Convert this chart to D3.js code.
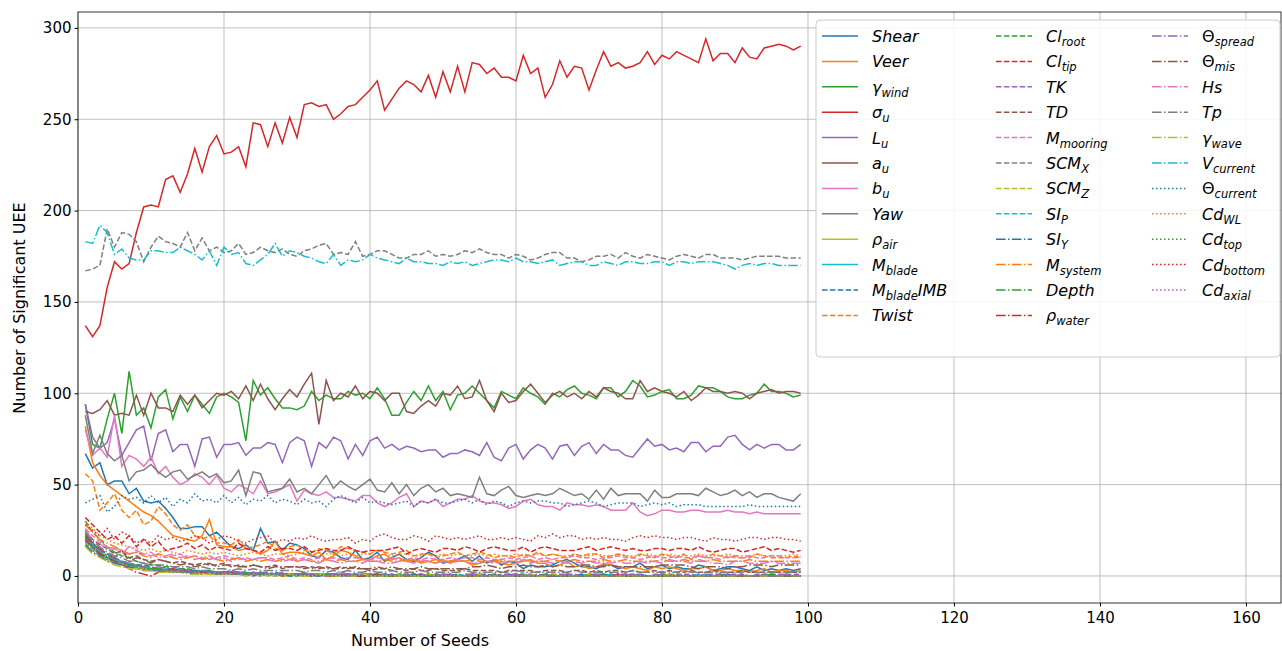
<!DOCTYPE html>
<html><head><meta charset="utf-8">
<script src="https://cdn.jsdelivr.net/npm/d3@7"></script>
<style>body{margin:0;background:#fff}text{font-family:"DejaVu Sans",sans-serif}</style>
</head><body><svg id="c" width="1282" height="651"></svg>
<script>
const xTicks=[0,20,40,60,80,100,120,140,160];
const yTicks=[0,50,100,150,200,250,300];
const names=[["Shear",""],["Veer",""],["γ","wind"],["σ","u"],["L","u"],["a","u"],["b","u"],["Yaw",""],["ρ","air"],["M","blade"],["M","blade","IMB"],["Twist",""],
["Cl","root"],["Cl","tip"],["TK",""],["TD",""],["M","mooring"],["SCM","X"],["SCM","Z"],["SI","P"],["SI","Y"],["M","system"],["Depth",""],["ρ","water"],
["Θ","spread"],["Θ","mis"],["Hs",""],["Tp",""],["γ","wave"],["V","current"],["Θ","current"],["Cd","WL"],["Cd","top"],["Cd","bottom"],["Cd","axial"]];
const shear="67,59,62,50,52,52,45,48,41,40,41,37,32,26,26,27,27,22,24,20,16,15,17,14,26,18,19,14,18,17,15,11,10,14,13,10,9,14,9,10,13,8,10,12,9,8,10,13,11,7,8,9,11,8,11,7,9,6,8,7,4,6,5,5,6,8,9,7,5,5,4,6,6,4,5,5,7,4,5,6,4,5,4,4,6,5,3,4,5,5,4,3,5,3,4,3,4,3,4";
const veer="82,62,55,50,47,44,41,38,35,33,30,26,22,21,20,19,22,31,17,16,16,14,15,14,12,14,19,12,13,13,12,11,13,9,11,14,13,11,9,9,11,12,9,10,8,9,7,8,7,9,7,9,8,6,7,8,8,7,6,7,8,9,7,7,5,6,8,5,6,4,5,7,6,5,4,5,4,3,5,4,5,4,3,4,4,5,3,3,4,3,3,2,3,4,2,3,3,2,3";
const gwind="94,72,70,86,100,78,112,88,92,81,98,102,86,98,90,99,94,89,98,100,98,95,74,107,99,103,97,92,92,91,93,101,96,99,97,97,101,99,100,97,103,97,88,88,95,101,96,104,96,101,91,99,100,104,100,96,92,101,99,97,103,100,98,94,100,98,102,104,100,99,97,103,103,98,101,107,104,98,99,101,102,97,97,99,104,103,103,101,98,97,97,99,100,105,101,101,100,98,99";
const sigu="137,131,137,158,172,168,171,188,202,203,202,217,219,210,220,234,221,235,241,231,232,235,224,248,247,235,248,237,251,240,258,259,257,258,250,253,257,258,262,266,271,255,261,267,271,269,265,274,262,276,265,279,265,281,280,275,278,273,273,271,285,275,278,262,269,282,273,279,278,266,277,287,279,281,278,279,281,287,280,285,283,287,285,283,281,294,282,286,286,281,289,284,283,289,290,291,290,288,290";
const lu="94,76,70,73,86,66,73,80,82,63,78,80,68,72,72,60,75,76,65,72,72,73,66,70,70,73,72,62,73,76,74,60,73,70,76,74,64,72,66,74,76,70,72,69,71,70,68,69,69,65,67,67,69,68,66,73,65,63,70,72,64,69,72,70,64,71,72,66,71,73,67,72,69,69,66,65,70,75,71,72,69,70,68,73,73,68,71,71,76,77,72,69,72,70,72,72,69,69,72";
const au="90,89,91,96,88,89,88,99,88,100,92,92,90,99,94,99,92,96,100,99,101,97,104,96,105,97,91,97,102,98,105,111,83,107,96,100,98,104,97,101,100,96,100,100,90,89,93,96,93,100,99,104,97,98,107,96,90,100,95,96,101,105,100,95,99,101,98,100,97,101,98,103,101,100,97,97,107,101,103,101,100,98,101,96,99,103,101,101,100,101,100,97,100,101,102,100,101,101,100";
const bu="80,66,70,65,88,60,66,64,60,65,56,60,54,50,52,56,54,50,55,48,46,50,48,45,52,45,46,48,50,41,47,45,44,46,43,43,42,41,44,44,40,38,40,43,45,38,41,40,42,38,40,42,42,44,41,40,40,39,37,38,41,42,39,38,38,36,40,39,39,38,39,38,36,36,36,40,35,33,34,36,36,35,35,36,36,35,35,35,36,35,35,34,35,34,34,34,34,34,34";
const yaw="88,67,77,67,63,66,52,57,58,61,57,54,57,58,53,55,57,54,56,51,52,58,44,57,56,46,47,48,53,46,48,45,50,55,48,52,49,47,50,53,47,46,51,45,50,44,48,50,46,48,44,45,44,43,54,45,44,47,49,44,43,44,45,44,45,48,46,44,45,42,47,42,48,44,45,45,45,41,47,43,43,45,45,45,44,48,46,44,45,47,44,46,43,45,45,43,42,41,45";
const rhoair="20,15,12,9,8,6,5,4,4,3,3,2,2,3,2,1,2,1,1,1,1,1,0,1,1,0,1,0,0,1,0,0,1,0,0,0,1,0,0,0,0,1,0,0,0,0,0,1,0,0,0,0,0,0,1,0,0,0,0,0,0,0,0,1,0,0,0,0,0,0,0,0,0,0,0,1,0,0,0,0,0,0,0,0,0,0,0,0,0,0,0,0,0,0,0,0,0,0,0";
const mblade="22,17,13,10,9,7,6,6,5,4,4,3,3,3,2,3,2,2,2,1,2,1,1,1,2,1,1,1,0,1,1,1,0,1,1,0,0,1,0,1,0,0,1,0,0,1,0,0,0,1,0,0,0,0,1,0,0,0,0,1,0,0,0,0,0,0,1,0,0,0,0,0,0,0,1,0,0,0,0,0,0,0,0,0,0,1,0,0,0,0,0,0,0,0,0,0,0,0,0";
const mbimb="24,18,14,12,10,8,7,6,6,5,4,5,3,4,3,3,2,3,2,2,2,2,1,2,1,1,2,1,1,1,1,0,1,1,1,0,1,1,0,1,0,1,0,0,1,0,1,0,0,0,1,0,0,1,0,0,0,0,1,0,0,0,1,0,0,0,0,0,1,0,0,0,0,0,0,0,1,0,0,0,0,0,0,0,0,0,0,0,1,0,0,0,0,0,0,0,0,0,0";
const twist="56,52,36,40,45,36,32,36,28,30,38,34,28,25,28,22,20,22,18,18,17,20,15,16,17,19,15,14,16,17,14,13,15,14,12,16,15,14,13,12,14,13,12,13,14,11,12,12,10,11,12,13,11,12,13,12,10,11,11,10,12,11,13,11,12,11,10,12,11,12,12,10,11,12,11,10,12,11,10,12,11,10,12,9,11,10,12,11,10,11,10,10,12,11,10,10,10,11,10";
const clroot="30,24,20,16,13,11,10,8,7,6,6,5,5,4,4,3,3,3,2,2,2,2,2,1,2,1,1,1,1,1,1,1,1,0,1,1,0,1,0,1,1,0,0,1,0,0,1,0,0,0,0,1,0,0,0,0,1,0,0,0,0,0,0,1,0,0,0,0,0,0,0,0,1,0,0,0,0,0,0,0,0,0,0,0,0,0,0,1,0,0,0,0,0,0,0,0,0,0,0";
const cltip="32,28,24,20,22,18,22,16,20,16,19,14,15,16,18,15,17,14,16,15,14,18,15,14,13,16,14,15,15,14,16,13,14,15,14,14,16,14,13,14,14,14,15,16,12,14,15,14,13,15,15,14,16,15,13,15,16,15,14,14,16,13,15,16,15,14,14,14,15,16,14,15,16,15,14,15,14,14,15,15,14,15,15,14,16,14,13,14,15,15,13,14,15,16,14,15,14,13,14";
const tk="21,16,12,10,8,7,6,5,5,4,4,3,4,3,3,2,3,2,2,2,3,2,2,1,2,2,1,2,1,1,2,1,1,1,1,2,1,1,1,1,1,1,0,1,1,1,1,0,1,1,1,0,1,1,1,1,0,1,1,1,1,1,0,1,1,1,1,1,0,1,1,1,0,1,1,1,1,0,1,1,1,1,1,1,0,1,1,1,1,1,1,0,1,1,1,1,1,1,1";
const td="25,20,17,15,12,14,10,11,9,8,9,8,7,8,7,6,7,6,6,7,5,6,5,6,5,5,6,4,5,5,4,5,4,5,4,4,5,4,4,3,4,4,3,4,3,4,3,3,4,3,3,3,4,3,3,3,3,2,3,3,3,3,2,3,3,3,2,3,3,2,3,2,3,3,2,3,2,2,3,2,3,2,2,3,2,2,3,2,2,2,3,2,2,2,2,2,2,2,2";
const mmoor="26,22,19,16,15,14,12,13,12,11,12,10,11,12,10,11,10,9,10,11,10,9,10,9,10,10,9,10,11,9,10,9,10,9,10,9,10,10,9,9,10,9,10,9,9,10,9,10,9,9,10,9,10,10,9,10,9,9,10,9,10,11,9,10,9,10,10,11,10,10,9,10,10,11,10,10,9,10,11,10,10,11,10,10,11,10,10,9,11,10,10,11,10,10,11,11,10,10,10";
const scmx="167,168,170,190,180,188,187,183,172,180,186,183,182,180,188,178,185,178,180,177,178,182,176,177,180,178,177,179,176,175,178,179,181,182,176,177,176,183,175,176,178,178,176,174,174,176,176,178,175,176,175,176,178,177,179,177,176,176,174,176,175,173,174,176,177,177,174,174,172,173,175,175,176,174,177,175,174,176,175,174,173,175,176,175,174,176,176,174,174,174,173,174,175,175,175,175,174,174,174";
const scmz="18,14,11,9,7,6,5,4,4,3,3,3,2,2,2,2,1,2,1,1,1,1,1,1,1,0,1,1,0,1,0,1,0,1,0,0,1,0,0,1,0,0,0,1,0,0,0,0,1,0,0,0,0,0,1,0,0,0,0,0,0,1,0,0,0,0,0,0,0,1,0,0,0,0,0,0,0,0,0,0,1,0,0,0,0,0,0,0,0,0,0,0,0,0,0,0,0,0,0";
const sip="19,15,12,10,8,7,6,5,5,4,3,4,3,3,2,2,3,2,2,1,2,1,1,2,1,1,1,1,1,0,1,1,0,1,1,0,1,0,1,0,0,1,0,0,1,0,0,1,0,0,0,1,0,0,0,0,1,0,0,0,0,0,0,1,0,0,0,0,0,0,0,0,1,0,0,0,0,0,0,0,0,0,0,0,1,0,0,0,0,0,0,0,0,0,0,0,0,0,0";
const siy="17,13,11,8,7,6,5,4,3,3,3,2,2,2,2,1,1,2,1,1,1,1,1,0,1,1,0,1,0,0,1,0,0,1,0,0,0,0,1,0,0,0,0,0,0,1,0,0,0,0,0,0,0,0,0,1,0,0,0,0,0,0,0,0,0,0,0,0,0,0,0,1,0,0,0,0,0,0,0,0,0,0,0,0,0,0,0,0,0,0,0,0,0,0,0,0,0,0,0";
const msys="28,24,20,18,16,14,12,13,11,10,12,11,10,9,10,11,9,10,9,8,9,10,8,9,8,9,8,9,10,8,9,8,8,9,8,9,8,8,9,8,8,9,8,8,9,8,8,8,9,8,8,9,8,9,8,8,8,9,8,8,9,8,8,8,9,8,8,9,8,8,8,9,8,8,9,8,8,8,8,9,8,8,9,8,8,8,9,8,8,8,8,9,8,8,8,8,8,8,8";
const depth="23,18,14,11,9,8,6,6,5,4,4,3,3,3,3,2,2,2,2,2,1,1,2,1,1,1,1,1,1,0,1,1,0,1,1,0,1,0,0,1,0,1,0,0,0,1,0,0,1,0,0,0,0,1,0,0,0,0,0,0,1,0,0,0,0,0,0,0,0,1,0,0,0,0,0,0,0,0,0,1,0,0,0,0,0,0,0,0,0,0,0,0,0,0,1,0,0,0,0";
const rhow="20,16,12,10,8,6,4,2,1,0,2,3,4,3,3,2,2,2,1,2,2,1,1,1,1,1,1,0,1,1,0,0,1,0,0,1,0,0,0,0,1,0,0,0,0,0,1,0,0,0,0,0,0,0,0,0,1,0,0,0,0,0,0,0,0,0,0,0,0,0,0,0,0,1,0,0,0,0,0,0,0,0,0,0,0,0,0,0,0,0,0,0,0,0,0,0,0,0,0";
const thspr="22,17,14,11,9,8,7,6,5,4,5,4,3,3,3,2,3,2,2,2,2,2,1,2,1,1,1,1,1,1,1,1,1,0,1,1,1,0,1,1,0,1,1,0,1,0,1,0,1,0,1,0,0,1,0,0,1,0,0,1,0,0,0,1,0,0,1,0,0,0,1,0,0,0,1,0,0,0,0,1,0,0,0,0,1,0,0,0,0,0,1,0,0,0,0,0,1,0,0";
const thmis="22,18,15,12,10,14,8,10,9,7,9,8,7,6,7,5,6,7,5,6,6,5,5,6,5,4,5,5,5,5,5,4,5,4,4,5,4,5,4,4,5,4,5,4,4,4,5,4,4,4,4,4,4,5,5,6,5,4,5,5,6,5,5,6,5,6,5,5,6,6,5,5,6,5,5,5,5,5,5,6,6,6,6,5,4,5,5,5,4,5,5,6,6,6,5,6,6,6,6";
const hs="25,20,18,14,15,12,16,14,12,13,10,11,12,10,11,9,10,11,9,10,8,10,9,9,10,9,8,8,9,8,9,8,7,9,8,7,8,8,7,9,8,7,7,8,8,7,9,8,7,8,7,8,8,7,7,8,7,8,7,7,9,7,8,8,7,8,7,8,7,8,7,8,7,8,7,7,8,7,8,7,9,8,8,7,9,8,7,7,6,8,8,7,7,7,8,7,7,7,7";
const tp="24,19,16,13,11,10,8,8,7,6,6,6,5,5,5,4,5,4,4,4,3,4,3,4,3,3,3,3,3,3,2,3,3,2,3,2,3,2,2,3,2,2,3,2,2,2,3,2,2,2,2,2,3,2,2,2,2,2,2,3,2,2,2,2,2,2,2,3,2,2,2,2,2,2,2,3,2,2,2,2,2,2,3,2,2,2,2,2,2,2,2,3,2,2,2,2,2,2,2";
const gwave="16,12,10,8,6,5,4,4,3,3,2,2,2,2,1,1,1,1,1,1,1,1,0,1,0,1,0,0,1,0,0,0,1,0,0,0,0,0,1,0,0,0,0,0,0,0,0,1,0,0,0,0,0,0,0,0,0,0,0,0,0,0,0,0,1,0,0,0,0,0,0,0,0,0,0,0,0,0,0,0,0,0,0,0,0,0,0,0,0,0,0,0,0,0,0,0,0,0,0";
const vcur="183,182,192,188,176,179,174,173,173,178,178,177,177,180,178,176,173,178,170,180,176,177,171,170,173,176,182,175,178,177,175,174,172,171,176,170,173,172,173,176,174,173,172,171,174,172,172,171,171,170,172,171,172,170,171,172,173,173,172,174,172,172,171,172,173,170,171,172,172,170,170,172,171,170,172,172,171,171,172,172,170,172,172,171,172,172,172,171,170,168,170,171,170,171,171,170,170,170,170";
const thcur="40,42,44,35,38,44,42,43,40,44,40,43,38,42,40,45,41,42,40,44,40,43,39,42,41,44,40,42,41,39,42,40,41,38,42,44,42,40,43,40,41,40,39,40,41,38,41,40,42,40,40,41,42,40,42,39,41,40,38,40,41,40,41,41,40,40,38,39,40,41,40,38,39,40,40,40,38,39,40,39,40,38,39,39,39,38,38,38,38,38,38,39,38,38,38,38,38,38,38";
const cdwl="30,26,22,20,18,17,16,15,14,15,13,14,13,12,14,13,12,13,12,13,12,11,12,13,12,11,12,12,11,12,13,12,11,12,12,11,12,11,12,12,11,12,11,12,12,11,11,12,11,12,11,12,11,11,12,11,12,11,11,12,11,11,12,11,12,11,11,12,11,11,12,11,11,12,11,11,11,12,11,11,12,11,11,11,12,11,11,11,12,11,11,11,12,11,11,11,11,12,11";
const cdtop="21,16,13,10,8,7,6,5,4,4,3,3,3,2,2,2,2,2,1,2,1,1,1,1,1,1,1,1,0,1,1,0,1,1,0,1,0,1,0,0,1,0,0,1,0,0,0,1,0,0,0,1,0,0,0,0,1,0,0,0,0,0,0,1,0,0,0,0,0,0,0,1,0,0,0,0,0,0,0,0,0,1,0,0,0,0,0,0,0,0,0,0,0,1,0,0,0,0,0";
const cdbot="28,25,22,26,20,24,22,18,20,18,22,20,21,19,20,22,21,18,20,22,21,19,18,20,21,22,18,20,19,21,20,22,20,19,20,20,21,18,20,19,22,23,21,20,20,22,21,19,22,21,20,21,20,21,22,20,20,21,20,21,20,19,22,21,23,21,22,22,20,21,20,21,20,20,19,21,22,21,22,21,21,20,21,21,20,19,21,20,20,19,20,21,21,20,21,21,20,20,19";
const cdax="19,14,11,9,7,6,5,5,4,3,3,3,2,2,2,2,1,2,1,1,1,1,1,1,0,1,1,0,1,1,0,1,0,0,1,0,0,1,0,0,0,1,0,0,0,0,1,0,0,0,0,0,0,1,0,0,0,0,0,0,0,0,1,0,0,0,0,0,0,0,0,0,0,1,0,0,0,0,0,0,0,0,0,0,0,0,0,0,1,0,0,0,0,0,0,0,0,0,0";
const seriesData=[shear,veer,gwind,sigu,lu,au,bu,yaw,rhoair,mblade,mbimb,twist,clroot,cltip,tk,td,mmoor,scmx,scmz,sip,siy,msys,depth,rhow,thspr,thmis,hs,tp,gwave,vcur,thcur,cdwl,cdtop,cdbot,cdax].map(s=>s.split(",").map(Number));

const colors=["#1f77b4","#ff7f0e","#2ca02c","#d62728","#9467bd","#8c564b","#e377c2","#7f7f7f","#bcbd22","#17becf"];
const dashes=[null,"5.5,2.4","9.6,2.4,1.5,2.4","1.5,2.5"];
const svg=d3.select("#c");
const L=78,R=1281,T=12,B=603;
const x=d3.scaleLinear().domain([0,164.8]).range([L,R]);
const y=d3.scaleLinear().domain([-14.8,308.7]).range([B,T]);
const g=svg.append("g");
g.selectAll(".gx").data(xTicks).join("line").attr("x1",d=>x(d)).attr("x2",d=>x(d)).attr("y1",T).attr("y2",B).attr("stroke","#b0b0b0").attr("stroke-width",0.8);
g.selectAll(".gy").data(yTicks).join("line").attr("y1",d=>y(d)).attr("y2",d=>y(d)).attr("x1",L).attr("x2",R).attr("stroke","#b0b0b0").attr("stroke-width",0.8);
const line=d3.line().x((d,i)=>x(i+1)).y(d=>y(d));
seriesData.forEach((s,k)=>{
  g.append("path").datum(s).attr("d",line).attr("fill","none").attr("stroke",colors[k%10]).attr("stroke-width",1.5)
   .attr("stroke-dasharray",dashes[Math.floor(k/10)]);
});
svg.append("rect").attr("x",L).attr("y",T).attr("width",R-L).attr("height",B-T).attr("fill","none").attr("stroke","#000").attr("stroke-width",0.8);
svg.append("g").attr("transform",`translate(0,${B})`).call(d3.axisBottom(x).tickValues(xTicks).tickSize(3.5).tickSizeOuter(0))
  .call(a=>{a.select(".domain").remove();a.selectAll("text").attr("font-size",15).attr("dy","0.9em").attr("font-family","DejaVu Sans");});
svg.append("g").attr("transform",`translate(${L},0)`).call(d3.axisLeft(y).tickValues(yTicks).tickSize(3.5).tickSizeOuter(0))
  .call(a=>{a.select(".domain").remove();a.selectAll("text").attr("font-size",15).attr("font-family","DejaVu Sans");});
svg.append("text").attr("x",420).attr("y",646).attr("text-anchor","middle").attr("font-size",16).text("Number of Seeds");
svg.append("text").attr("transform","translate(25,308) rotate(-90)").attr("text-anchor","middle").attr("font-size",16).text("Number of Significant UEE");
// legend
const lg=svg.append("g");
lg.append("rect").attr("x",816).attr("y",20).attr("width",464).attr("height",337).attr("rx",4).attr("fill","#fff").attr("fill-opacity",0.85).attr("stroke","#ccc");
names.forEach((n,k)=>{
  const col=Math.floor(k/12),row=k%12;
  const lx=[822,996,1152][col],ly=36+row*25.4;
  lg.append("line").attr("x1",lx).attr("x2",lx+36).attr("y1",ly).attr("y2",ly).attr("stroke",colors[k%10]).attr("stroke-width",1.5).attr("stroke-dasharray",dashes[Math.floor(k/10)]);
  const t=lg.append("text").attr("x",lx+50).attr("y",ly+6).attr("font-size",16).attr("font-style",n[0]==="Θ"?"normal":"italic");
  t.append("tspan").text(n[0]);
  if(n[1]) t.append("tspan").attr("font-size",11.5).attr("font-style","italic").attr("dy",4).text(n[1]);
  if(n[2]) t.append("tspan").attr("font-style","italic").attr("dy",-4).text(n[2]);
});
</script></body></html>
